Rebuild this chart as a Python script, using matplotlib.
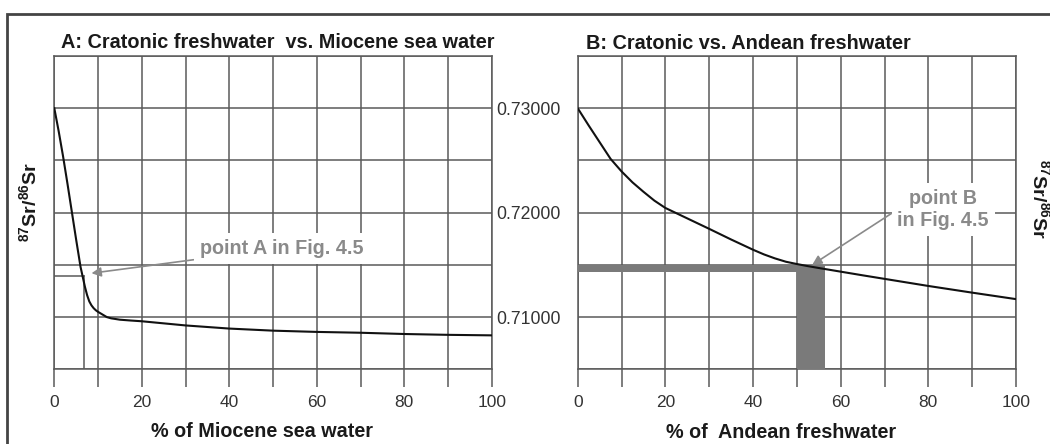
import matplotlib
matplotlib.use("Agg")
import matplotlib.pyplot as plt
import matplotlib.patches as mpatches

plt.rcParams['font.family'] = ['Liberation Sans', 'DejaVu Sans']
plt.rcParams['mathtext.fontset'] = 'custom'
plt.rcParams['mathtext.rm'] = 'Liberation Sans:bold'
plt.rcParams['mathtext.it'] = 'Liberation Sans:bold'
plt.rcParams['mathtext.bf'] = 'Liberation Sans:bold'

# ---- data ----
# Panel A: cratonic freshwater vs Miocene sea water
a_pct = [0, 1, 2, 3, 4, 5, 6, 7, 7.5, 8, 8.5, 9, 9.5, 10, 11, 12, 13, 15, 17.5, 20, 25, 30,
         40, 50, 60, 70, 80, 90, 100]
a_ratio = [0.7300, 0.7278, 0.7254, 0.7228, 0.7201, 0.7174, 0.7148, 0.7129, 0.7121, 0.71150,
           0.71112, 0.71085, 0.71065, 0.7105, 0.71025, 0.7100, 0.70988, 0.70975, 0.70967,
           0.7096, 0.7094, 0.7092, 0.7089, 0.7087, 0.70858, 0.7085, 0.70838, 0.7083, 0.70825]
# Panel B: cratonic vs Andean freshwater
b_pct = [0, 2.5, 5, 7.5, 10, 12.5, 15, 17.5, 20, 25, 30, 35, 40, 42.5, 45, 47.5, 50, 52.5,
         55, 60, 65, 70, 80, 90, 100]
b_ratio = [0.7300, 0.72835, 0.72675, 0.72515, 0.72395, 0.72290, 0.72200, 0.72115, 0.72045,
           0.71945, 0.71845, 0.71743, 0.71645, 0.71600, 0.71562, 0.71530, 0.71508, 0.71488,
           0.71470, 0.71435, 0.71400, 0.71366, 0.71298, 0.71234, 0.71172]

point_a = (6.7, 0.7139)          # mixing fraction, ratio
point_a_arrow_tip = (8.5, 0.7142)
point_b_band = (0.71436, 0.7150)  # ratio band
point_b_pct = (50.0, 56.5)        # fraction band

x_ticks = list(range(0, 101, 10))
x_labels = ['0', '', '20', '', '40', '', '60', '', '80', '', '100']
y_ticks = [0.705, 0.710, 0.715, 0.720, 0.725, 0.730, 0.735]
y_labels = ['', '0.71000', '', '0.72000', '', '0.73000', '']

titles = ['A: Cratonic freshwater  vs. Miocene sea water', 'B: Cratonic vs. Andean freshwater']
xlabels = ['% of Miocene sea water', '% of  Andean freshwater']
ylabel = r'$^{87}\mathrm{Sr/}^{86}\mathrm{Sr}$'

# ---- style ----
W, H = 1050, 444
grid_c = '#5a5a5a'
text_c = '#333333'
note_c = '#8a8a8a'
fig = plt.figure(figsize=(W / 100, H / 100), dpi=100)
fig.patch.set_facecolor('white')


def fx(px):
    return px / W


def fy(py):
    return 1 - py / H


axA = fig.add_axes([fx(54.3), fy(369.3), fx(491.8 - 54.3), (369.3 - 56.0) / H])
axB = fig.add_axes([fx(577.7), fy(369.3), fx(1016.0 - 577.7), (369.3 - 56.0) / H])

for ax in (axA, axB):
    ax.set_xlim(0, 100)
    ax.set_ylim(0.705, 0.735)
    ax.set_xticks(x_ticks)
    ax.set_xticklabels(x_labels)
    ax.set_yticks(y_ticks)
    ax.set_axisbelow(True)
    ax.grid(True, color=grid_c, lw=1.1)
    for s in ax.spines.values():
        s.set_color(grid_c)
        s.set_linewidth(1.1)
    ax.tick_params(axis='x', direction='out', length=13, width=1.1, color=grid_c,
                   labelsize=12.5, labelcolor=text_c, pad=5.5)
    ax.tick_params(axis='y', length=0, labelsize=12.7, labelcolor=text_c, pad=12)

axA.set_yticklabels([''] * len(y_ticks))
axB.set_yticklabels(y_labels)

# curves
axA.plot(a_pct, a_ratio, color='#111111', lw=1.5, zorder=4)
axB.plot(b_pct, b_ratio, color='#111111', lw=1.5, zorder=4)

# point A reference lines
axA.plot([0, point_a[0]], [point_a[1], point_a[1]], color=grid_c, lw=1.1, zorder=2)
axA.plot([point_a[0], point_a[0]], [0.705, point_a[1]], color=grid_c, lw=1.1, zorder=2)

# point B shaded band
axB.fill_between([0, point_b_pct[1]], point_b_band[0], point_b_band[1],
                 color='#7a7a7a', lw=0, zorder=3)
axB.fill_between([point_b_pct[0], point_b_pct[1]], 0.705, point_b_band[1],
                 color='#7a7a7a', lw=0, zorder=3)

# annotations
bbox = dict(boxstyle='square,pad=0.3', fc='white', ec='none')
axA.annotate('point A in Fig. 4.5', xy=point_a_arrow_tip, xytext=(33.2, 0.7166),
             ha='left', va='center', fontsize=14.2, fontweight='bold', color=note_c,
             bbox=bbox, zorder=5,
             arrowprops=dict(arrowstyle='-|>', color=note_c, lw=1.2, mutation_scale=14,
                             shrinkA=0, shrinkB=0))
axB.annotate('point B\nin Fig. 4.5', xy=(53.5, 0.7150), xytext=(83.4, 0.7203),
             ha='center', va='center', fontsize=14.2, fontweight='bold', color=note_c,
             linespacing=1.25, bbox=bbox, zorder=5,
             arrowprops=dict(arrowstyle='-|>', color=note_c, lw=1.2, mutation_scale=14,
                             shrinkA=0, shrinkB=0, relpos=(0.0, 0.5)))

# titles and labels
tc = '#1a1a1a'
fig.text(fx(60.7), fy(42), titles[0], ha='left', va='center', fontsize=14.3, fontweight='bold', color=tc)
fig.text(fx(585.8), fy(43.8), titles[1], ha='left', va='center', fontsize=14.3, fontweight='bold', color=tc)
fig.text(fx(261.7), fy(431), xlabels[0], ha='center', va='center', fontsize=14.2, fontweight='bold', color=tc)
fig.text(fx(781), fy(432), xlabels[1], ha='center', va='center', fontsize=14.2, fontweight='bold', color=tc)
fig.text(fx(29), fy(201.5), ylabel, ha='center', va='center', rotation=90, fontsize=14, color=tc)
fig.text(fx(1040), fy(199), ylabel, ha='center', va='center', rotation=270, fontsize=14, color=tc)

# outer frame (top and left edges visible)
fig.add_artist(mpatches.Rectangle((fx(7.3), -0.2), 1.5, fy(14) + 0.2, transform=fig.transFigure,
                                  fill=False, ec='#444444', lw=2.0, clip_on=False))

fig.savefig('out.png', dpi=100, facecolor='white')
